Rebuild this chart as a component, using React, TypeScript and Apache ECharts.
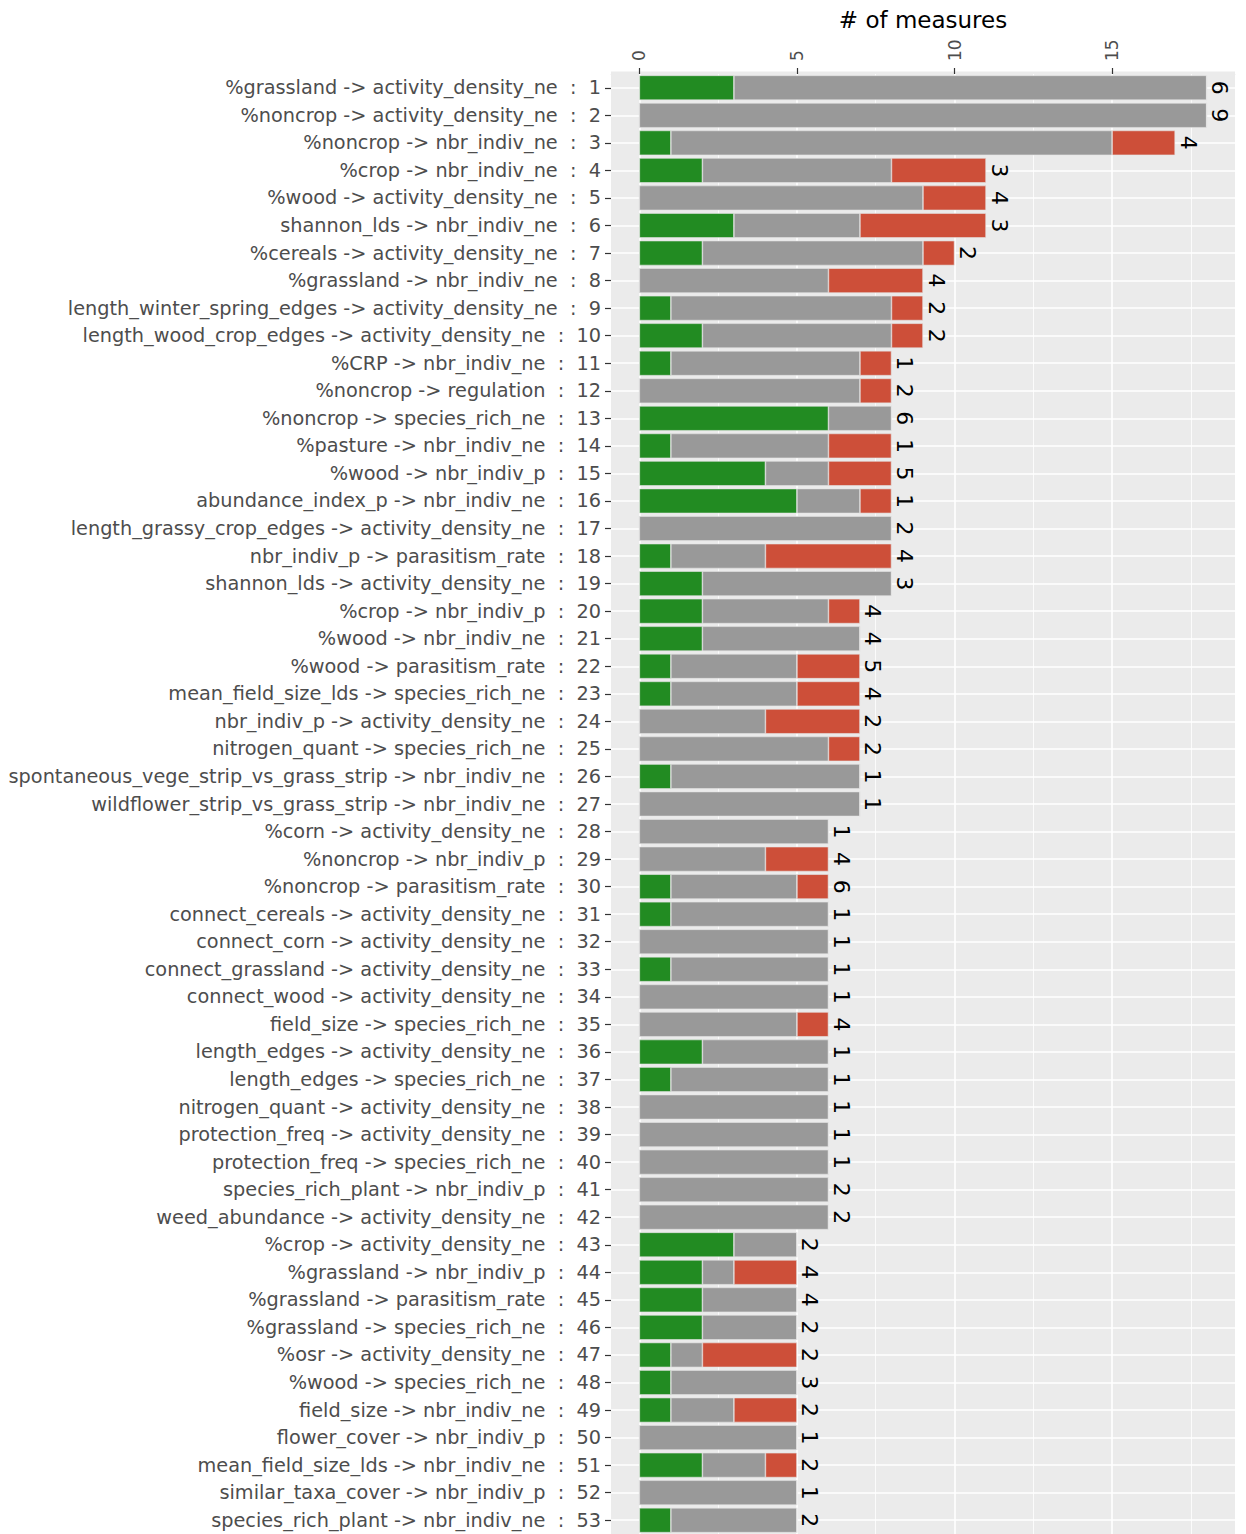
import React, { useEffect, useRef } from "react";
import * as echarts from "echarts";

const categories = [
  "%grassland -> activity_density_ne",
  "%noncrop -> activity_density_ne",
  "%noncrop -> nbr_indiv_ne",
  "%crop -> nbr_indiv_ne",
  "%wood -> activity_density_ne",
  "shannon_lds -> nbr_indiv_ne",
  "%cereals -> activity_density_ne",
  "%grassland -> nbr_indiv_ne",
  "length_winter_spring_edges -> activity_density_ne",
  "length_wood_crop_edges -> activity_density_ne",
  "%CRP -> nbr_indiv_ne",
  "%noncrop -> regulation",
  "%noncrop -> species_rich_ne",
  "%pasture -> nbr_indiv_ne",
  "%wood -> nbr_indiv_p",
  "abundance_index_p -> nbr_indiv_ne",
  "length_grassy_crop_edges -> activity_density_ne",
  "nbr_indiv_p -> parasitism_rate",
  "shannon_lds -> activity_density_ne",
  "%crop -> nbr_indiv_p",
  "%wood -> nbr_indiv_ne",
  "%wood -> parasitism_rate",
  "mean_field_size_lds -> species_rich_ne",
  "nbr_indiv_p -> activity_density_ne",
  "nitrogen_quant -> species_rich_ne",
  "spontaneous_vege_strip_vs_grass_strip -> nbr_indiv_ne",
  "wildflower_strip_vs_grass_strip -> nbr_indiv_ne",
  "%corn -> activity_density_ne",
  "%noncrop -> nbr_indiv_p",
  "%noncrop -> parasitism_rate",
  "connect_cereals -> activity_density_ne",
  "connect_corn -> activity_density_ne",
  "connect_grassland -> activity_density_ne",
  "connect_wood -> activity_density_ne",
  "field_size -> species_rich_ne",
  "length_edges -> activity_density_ne",
  "length_edges -> species_rich_ne",
  "nitrogen_quant -> activity_density_ne",
  "protection_freq -> activity_density_ne",
  "protection_freq -> species_rich_ne",
  "species_rich_plant -> nbr_indiv_p",
  "weed_abundance -> activity_density_ne",
  "%crop -> activity_density_ne",
  "%grassland -> nbr_indiv_p",
  "%grassland -> parasitism_rate",
  "%grassland -> species_rich_ne",
  "%osr -> activity_density_ne",
  "%wood -> species_rich_ne",
  "field_size -> nbr_indiv_ne",
  "flower_cover -> nbr_indiv_p",
  "mean_field_size_lds -> nbr_indiv_ne",
  "similar_taxa_cover -> nbr_indiv_p",
  "species_rich_plant -> nbr_indiv_ne",
];

const positive = [
  3, 0, 1, 2, 0, 3, 2, 0, 1, 2,
  1, 0, 6, 1, 4, 5, 0, 1, 2, 2,
  2, 1, 1, 0, 0, 1, 0, 0, 0, 1,
  1, 0, 1, 0, 0, 2, 1, 0, 0, 0,
  0, 0, 3, 2, 2, 2, 1, 1, 1, 0,
  2, 0, 1,
];

const neutral = [
  15, 18, 14, 6, 9, 4, 7, 6, 7, 6,
  6, 7, 2, 5, 2, 2, 8, 3, 6, 4,
  5, 4, 4, 4, 6, 6, 7, 6, 4, 4,
  5, 6, 5, 6, 5, 4, 5, 6, 6, 6,
  6, 6, 2, 1, 3, 3, 1, 4, 2, 5,
  2, 5, 4,
];

const negative = [
  0, 0, 2, 3, 2, 4, 1, 3, 1, 1,
  1, 1, 0, 2, 2, 1, 0, 4, 0, 1,
  0, 2, 2, 3, 1, 0, 0, 0, 2, 1,
  0, 0, 0, 0, 1, 0, 0, 0, 0, 0,
  0, 0, 0, 2, 0, 0, 3, 0, 2, 0,
  1, 0, 0,
];

const studies = [
  6, 9, 4, 3, 4, 3, 2, 4, 2, 2,
  1, 2, 6, 1, 5, 1, 2, 4, 3, 4,
  4, 5, 4, 2, 2, 1, 1, 1, 4, 6,
  1, 1, 1, 1, 4, 1, 1, 1, 1, 1,
  2, 2, 2, 4, 4, 2, 2, 3, 2, 1,
  2, 1, 2,
];

const xTicks = [0, 5, 10, 15];
const xMinorTicks = [2.5, 7.5, 12.5, 17.5];

const FONT = "DejaVu Sans";

export default function App() {
  const ref = useRef<HTMLDivElement>(null);

  useEffect(() => {
    if (!ref.current) return;
    const chart = echarts.init(ref.current, null, { renderer: "svg" });

    const labels = categories.map((c, i) => `${c}  :  ${i + 1}`);

    const gridLineData: any[] = [
      ...xTicks.map((v) => ({ xAxis: v, lineStyle: { width: 1.6 } })),
      ...xMinorTicks.map((v) => ({ xAxis: v, lineStyle: { width: 0.8 } })),
      ...labels.map((l) => ({ yAxis: l, lineStyle: { width: 1.6 } })),
    ];

    const barStyle = (color: string) => ({
      color,
      borderColor: "#e4e4e4",
      borderWidth: 0.6,
    });

    const option: any = {
      animation: false,
      textStyle: { fontFamily: FONT },
      graphic: [
        {
          type: "rect",
          z: -10,
          shape: { x: 611, y: 71.5, width: 624, height: 1470 },
          style: { fill: "#EBEBEB" },
          silent: true,
        },
        {
          type: "text",
          x: 923,
          y: 20,
          style: {
            text: "# of measures",
            fontSize: 23,
            fontFamily: FONT,
            fill: "#000000",
            textAlign: "center",
            textVerticalAlign: "middle",
          },
        },
      ],
      grid: {
        left: 611,
        right: 11,
        top: 74,
        bottom: 0,
      },
      xAxis: {
        type: "value",
        position: "top",
        min: -0.9,
        max: 18.9,
        axisLine: { show: true, onZero: false, lineStyle: { color: "#EBEBEB", width: 1 } },
        splitLine: { show: false },
        axisTick: {
          show: true,
          inside: false,
          customValues: xTicks,
          length: 6,
          lineStyle: { color: "#333333", width: 1.2 },
        },
        axisLabel: {
          show: true,
          customValues: xTicks,
          rotate: -90,
          fontSize: 17,
          color: "#4D4D4D",
          margin: 13,
          fontFamily: FONT,
        },
      },
      yAxis: {
        type: "category",
        inverse: true,
        data: labels,
        axisLine: { show: true, onZero: false, lineStyle: { color: "#EBEBEB", width: 1 } },
        splitLine: { show: false },
        axisTick: {
          show: true,
          inside: false,
          alignWithLabel: true,
          interval: 0,
          length: 6,
          lineStyle: { color: "#333333", width: 1.2 },
        },
        axisLabel: {
          fontSize: 19.3,
          color: "#4D4D4D",
          margin: 10,
          fontFamily: FONT,
          interval: 0,
        },
      },
      series: [
        {
          type: "line",
          data: [],
          silent: true,
          markLine: {
            silent: true,
            symbol: "none",
            z: 1,
            label: { show: false },
            lineStyle: { color: "#FFFFFF", type: "solid", width: 1.6 },
            emphasis: { disabled: true },
            data: gridLineData,
          },
        },
        {
          type: "bar",
          name: "positive",
          stack: "a",
          z: 2,
          barCategoryGap: "10%",
          itemStyle: barStyle("#228B22"),
          data: positive,
        },
        {
          type: "bar",
          name: "neutral",
          stack: "a",
          z: 2,
          barCategoryGap: "10%",
          itemStyle: barStyle("#999999"),
          data: neutral,
        },
        {
          type: "bar",
          name: "negative",
          stack: "a",
          z: 2,
          barCategoryGap: "10%",
          itemStyle: barStyle("#CD4F39"),
          data: negative,
        },
        {
          type: "bar",
          name: "studies",
          stack: "a",
          z: 3,
          barCategoryGap: "10%",
          itemStyle: { color: "rgba(0,0,0,0)", borderWidth: 0 },
          data: studies.map(() => 0),
          label: {
            show: true,
            position: "right",
            distance: 2,
            rotate: -90,
            align: "center",
            verticalAlign: "bottom",
            fontSize: 22,
            color: "#000000",
            fontFamily: FONT,
            formatter: (p: any) => String(studies[p.dataIndex]),
          },
        },
      ],
    };

    chart.setOption(option);
    return () => chart.dispose();
  }, []);

  return (
    <div
      ref={ref}
      style={{ position: "absolute", left: 0, top: 0, width: 1246, height: 1534 }}
    />
  );
}
